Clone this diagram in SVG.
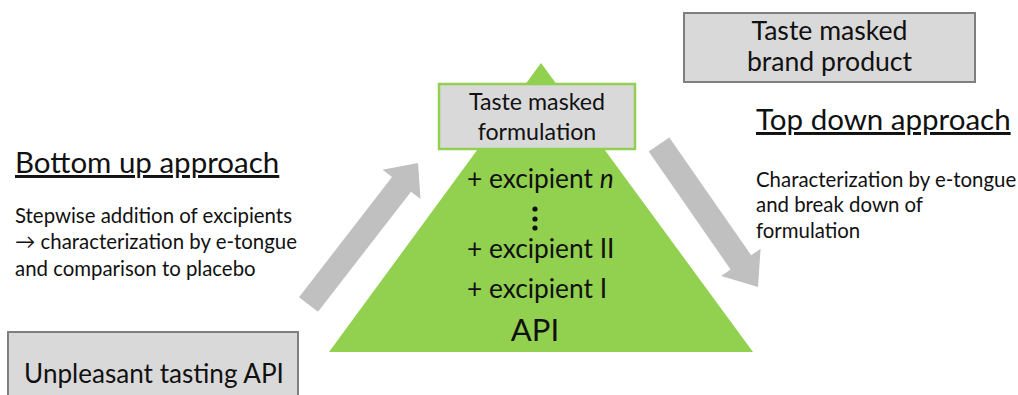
<svg xmlns="http://www.w3.org/2000/svg" width="1018" height="395" viewBox="0 0 1018 395">
<style>
text{font-family:Lato,"Open Sans","Liberation Sans",sans-serif;fill:#111}
.box{fill:#d9d9d9;stroke:#7f7f7f;stroke-width:2}
.arrow{fill:#c0c0c0}
.h{font-size:29.5px;text-decoration:underline}
.d{font-size:20.4px}
.e{font-size:26.3px}
</style>
<rect width="1018" height="395" fill="#fff"/>
<g id="pyramid">
<polygon points="541,63 753,352 329,352" fill="#92d050"/>
<text class="e" x="467" y="188">+ excipient <tspan font-style="italic">n</tspan></text>
<circle cx="535" cy="209" r="2.6" fill="#111"/>
<circle cx="535" cy="219" r="2.6" fill="#111"/>
<circle cx="535" cy="228" r="2.6" fill="#111"/>
<text class="e" x="467" y="258">+ excipient II</text>
<text class="e" x="467" y="298">+ excipient I</text>
<text x="535" y="341" font-size="31" text-anchor="middle">API</text>
</g>
<g id="formulation">
<rect x="439" y="84" width="196" height="65" fill="#d9d9d9" stroke="#92d050" stroke-width="2.5"/>
<text x="537" y="110" font-size="23.2" text-anchor="middle">Taste masked</text>
<text x="537" y="140" font-size="23.2" text-anchor="middle">formulation</text>
</g>
<g id="brand">
<rect class="box" x="684" y="13" width="291" height="69"/>
<text x="829.5" y="40" font-size="26.6" text-anchor="middle">Taste masked</text>
<text x="829.5" y="71" font-size="26.6" text-anchor="middle">brand product</text>
</g>
<g id="api">
<rect class="box" x="8" y="332" width="290" height="70"/>
<text x="154" y="383" font-size="26.1" text-anchor="middle">Unpleasant tasting API</text>
</g>
<g id="bottomup">
<text class="h" x="15" y="173">Bottom up approach</text>
<text class="d" x="15" y="223">Stepwise addition of excipients</text>
<text class="d" x="15" y="249">→ characterization by e-tongue</text>
<text class="d" x="15" y="276">and comparison to placebo</text>
</g>
<g id="topdown">
<text class="h" x="756" y="130">Top down approach</text>
<text class="d" x="756" y="187">Characterization by e-tongue</text>
<text class="d" x="756" y="212">and break down of</text>
<text class="d" x="756" y="238">formulation</text>
</g>
<g id="connectors">
<polygon class="arrow" points="299,297.2 392,177.1 382.5,169.7 418,163 420.5,199.1 411,191.7 318,311.8"/>
<polygon class="arrow" points="648.7,151.6 669.3,137.4 751.2,255.3 760.6,248.7 758,287 721.2,276.1 730.6,269.5"/>
</g>
</svg>
